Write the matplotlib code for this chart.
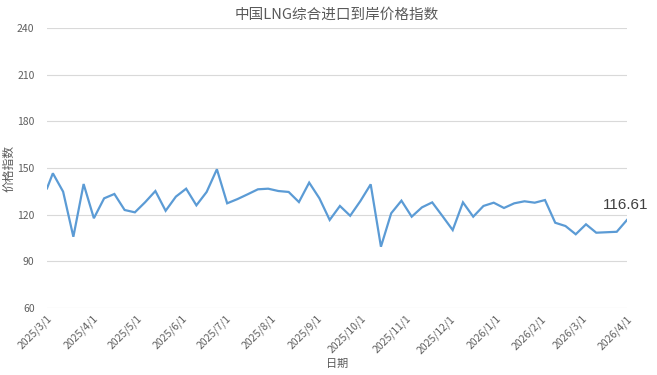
import matplotlib
matplotlib.use("Agg")
import matplotlib.pyplot as plt
import pandas as pd

plt.rcParams['font.family'] = ['Noto Sans CJK SC', 'DejaVu Sans']

# weekly index values (first point sits on the axis edge)
dates = ["2025-03-01"] + list(pd.date_range("2025-03-05", "2026-04-01", freq="7D").strftime("%Y-%m-%d"))
values = [
    136.9, 146.6, 134.8, 105.8, 139.7, 117.7, 130.5, 133.3, 123.0, 121.5,
    128.0, 135.2, 122.5, 131.6, 136.7, 126.0, 134.6, 149.2, 127.3, 130.0,
    133.1, 136.3, 136.7, 135.2, 134.6, 128.1, 140.6, 130.5, 116.6, 125.6,
    119.3, 128.8, 139.5, 99.4, 120.9, 129.0, 118.7, 124.7, 127.9, 119.1,
    110.1, 127.9, 118.7, 125.6, 127.7, 124.3, 127.3, 128.6, 127.7, 129.4,
    114.8, 112.7, 107.4, 113.8, 108.4, 108.7, 109.0, 116.61,
]
month_ticks = pd.date_range("2025-03-01", "2026-04-01", freq="MS")
month_labels = [f"{d.year}/{d.month}/1" for d in month_ticks]
y_ticks = [60, 90, 120, 150, 180, 210, 240]

x = pd.to_datetime(dates)

fig = plt.figure(figsize=(6.57, 3.75), dpi=100)
ax = fig.add_axes([47 / 657, 1 - 308 / 375, 580 / 657, 280 / 375])

ax.plot(x, values, color="#5B9BD5", linewidth=1.6, solid_joinstyle="miter")
ax.annotate(f"{values[-1]:.2f}", (x[-1], values[-1]), xytext=(-1, 6),
            textcoords="offset points", ha="center", va="bottom",
            fontsize=11, color="#404040", family=["Liberation Sans", "DejaVu Sans"])

ax.set_xlim(month_ticks[0], month_ticks[-1])
ax.set_ylim(60, 240)
ax.set_yticks(y_ticks)
ax.set_xticks(month_ticks)
ax.set_xticklabels(month_labels, rotation=45, ha="right", rotation_mode="anchor")
ax.tick_params(axis="both", length=0, labelsize=7.5, labelcolor="#5F5F5F")
ax.tick_params(axis="y", pad=9)
ax.tick_params(axis="x", pad=4)
ax.grid(axis="y", color="#D9D9D9", linewidth=0.8)
ax.set_axisbelow(True)
for s in ax.spines.values():
    s.set_visible(False)

ax.set_title("中国LNG综合进口到岸价格指数", fontsize=10.5, color="#595959", pad=7)
ax.set_xlabel("日期", fontsize=8, color="#595959", labelpad=2)
ax.set_ylabel("价格指数", fontsize=8.5, color="#595959")
ax.yaxis.set_label_coords(-0.054, 0.5)

fig.savefig("out.png", dpi=100)
